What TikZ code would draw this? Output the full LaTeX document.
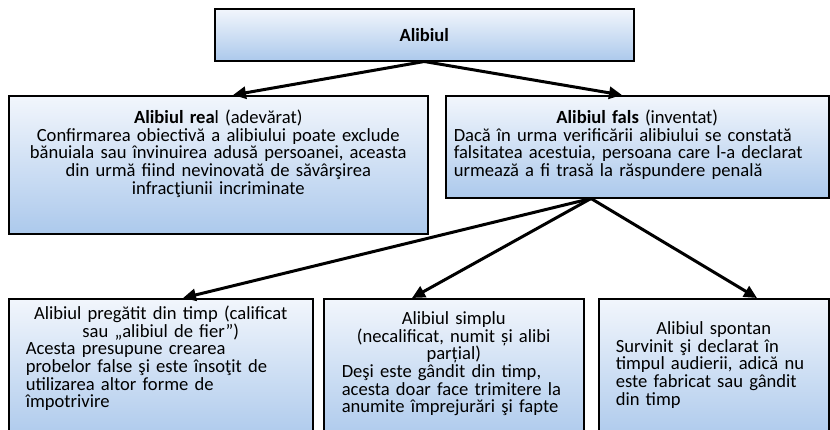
\documentclass[tikz,border=0pt]{standalone}
\usepackage{fontspec}
\setmainfont{Carlito}
\usetikzlibrary{arrows.meta, positioning}
\definecolor{boxtop}{RGB}{242,246,252}
\definecolor{boxbottom}{RGB}{172,201,236}
\newcommand{\jline}[1]{\makebox[\hsize][s]{#1}}
\newcommand{\lline}[1]{\makebox[\hsize][l]{#1}}

\begin{document}
\begin{tikzpicture}[x=1pt, y=-1pt,
		base/.style = {draw=black, line width=1.5pt, top color=boxtop, bottom color=boxbottom, align=center, font=\fontsize{18.6}{17.6}\selectfont} , 
		node/.style = {rectangle, base, anchor=north west, inner ysep=6pt},
		arr/.style = {line width=3pt, -{Triangle[length=13pt,width=12pt]}}
		]
		\useasboundingbox (0,0) rectangle (830,429);
		\clip (0,0) rectangle (830,429);
		\node (A) [rectangle, base, anchor=north west, minimum width=419pt, minimum height=52pt] at (214,8) {\textbf{Alibiul}};
		\node (B) [node, inner xsep=15pt, text width=389pt, text height=22pt, text depth=104pt] at (8,95) {\textbf{Alibiul rea}l (adevărat)\\
			Confirmarea obiectivă a alibiului poate exclude\\
			bănuiala sau învinuirea adusă persoanei, aceasta\\
			din urmă fiind nevinovată de săvârşirea\\
			infracţiunii incriminate};
		\node (C) [node, inner xsep=8pt, text width=367pt, text height=22pt, text depth=68pt] at (445,95) {\textbf{Alibiul fals} (inventat)\\
			\jline{Dacă în urma verificării alibiului se constată}\\
			\jline{falsitatea acestuia, persoana care l-a declarat}\\
			\lline{urmează a fi trasă la răspundere penală}};
		\node (D) [node, inner xsep=17pt, text width=270pt, text height=15pt, text depth=115pt] at (8,298) {Alibiul pregătit din timp (calificat\\
			sau „alibiul de fier”)\\
			\lline{Acesta presupune crearea}\\
			\lline{probelor false şi este însoţit de}\\
			\lline{utilizarea altor forme de}\\
			\lline{împotrivire}};
		\node (E) [node, inner xsep=18pt, text width=224pt, text height=20pt, text depth=110pt] at (323,298) {Alibiul simplu\\
			(necalificat, numit și alibi\\
			parțial)\\
			\jline{Deşi este gândit din timp,}\\
			\jline{acesta doar face trimitere la}\\
			\lline{anumite împrejurări şi fapte}};
		\node (F) [node, inner xsep=17pt, text width=196pt, text height=30pt, text depth=100pt] at (598,298) {Alibiul spontan\\
			\jline{Survinit şi declarat în}\\
			\jline{timpul audierii, adică nu}\\
			\jline{este fabricat sau gândit}\\
			\lline{din timp}};
		
		\draw[arr] (A.south) -- ([xshift=225pt]B.north west);
		\draw[arr] (A.south) -- ([xshift=177pt]C.north west);
		\draw[arr] ([xshift=146pt]C.south west) -- ([xshift=175pt]D.north west);
		\draw[arr] ([xshift=146pt]C.south west) -- ([xshift=89pt]E.north west);
		\draw[arr] ([xshift=146pt]C.south west) -- ([xshift=159pt]F.north west);
	\end{tikzpicture}
\end{document}
